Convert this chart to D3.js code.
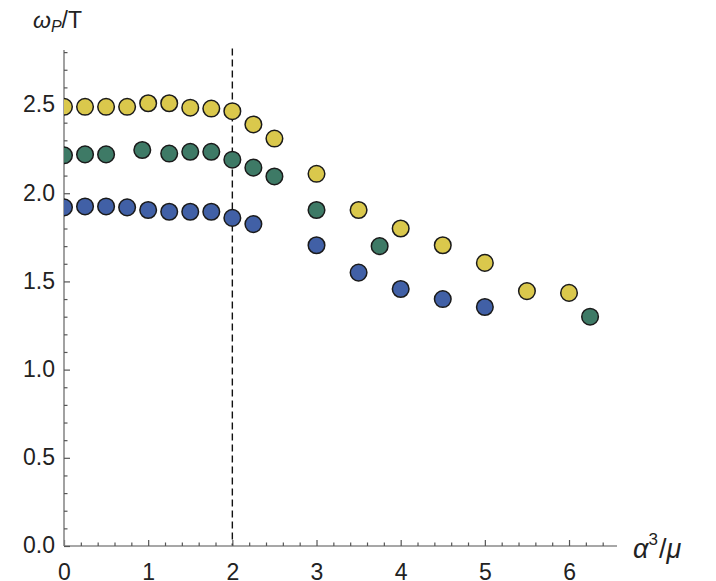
<!DOCTYPE html>
<html>
<head>
<meta charset="utf-8">
<script src="https://cdn.jsdelivr.net/npm/d3@7"></script>
<style>
  html, body { margin: 0; padding: 0; background: #fff; }
  svg { display: block; }
</style>
</head>
<body>
<svg id="chart" width="716" height="581"></svg>
<script>
// Peak frequency ω_P/T against α³/μ, three series
const xYellow = [0, 0.25, 0.5, 0.75, 1, 1.25, 1.5, 1.75, 2, 2.25, 2.5, 3, 3.5, 4, 4.5, 5, 5.5, 6];
const yYellow = [2.49, 2.49, 2.49, 2.49, 2.51, 2.51, 2.485, 2.48, 2.465, 2.39, 2.31, 2.11, 1.905, 1.80, 1.705, 1.605, 1.445, 1.435];

const xGreen = [0, 0.25, 0.5, 0.93, 1.25, 1.5, 1.75, 2, 2.25, 2.5, 3, 3.75, 6.25];
const yGreen = [2.215, 2.22, 2.22, 2.245, 2.225, 2.235, 2.235, 2.19, 2.145, 2.095, 1.905, 1.70, 1.30];

const xBlue = [0, 0.25, 0.5, 0.75, 1, 1.25, 1.5, 1.75, 2, 2.25, 3, 3.5, 4, 4.5, 5];
const yBlue = [1.92, 1.925, 1.925, 1.92, 1.905, 1.895, 1.895, 1.895, 1.86, 1.825, 1.705, 1.55, 1.457, 1.40, 1.355];

const xTicks = [0, 1, 2, 3, 4, 5, 6];
const yTicks = [0.0, 0.5, 1.0, 1.5, 2.0, 2.5];
const markerX = 2;

const series = [
  { xs: xBlue,   ys: yBlue,   fill: "#4160a6" },
  { xs: xGreen,  ys: yGreen,  fill: "#3e7a66" },
  { xs: xYellow, ys: yYellow, fill: "#dac84c" }
];

const svg = d3.select("#chart");
const x = d3.scaleLinear().domain([0, 6.57]).range([64, 617]);
const y = d3.scaleLinear().domain([0, 2.812]).range([546, 50]);

const axisColor = "#8a8a8a";
const font = "'Liberation Sans', Arial, Helvetica, sans-serif";

// clip region for the plotted points
svg.append("clipPath").attr("id", "plotClip")
  .append("rect")
  .attr("x", x(0)).attr("y", 0)
  .attr("width", 716 - x(0)).attr("height", y(0) + 1);

// vertical dashed reference line
svg.append("line")
  .attr("x1", x(markerX)).attr("x2", x(markerX))
  .attr("y1", y(2.82)).attr("y2", y(0))
  .attr("stroke", "#111").attr("stroke-width", 1.4)
  .attr("stroke-dasharray", "7,4");

// x axis (ticks pointing up into the plot)
const xMinor = d3.range(0.2, 6.5, 0.2).filter(v => Math.abs(v - Math.round(v)) > 1e-6);
const gx = svg.append("g").attr("transform", `translate(0,${y(0)})`);
gx.append("line").attr("x1", x(0)).attr("x2", x.range()[1])
  .attr("stroke", axisColor).attr("stroke-width", 1.6);
gx.call(d3.axisBottom(x).tickValues(xMinor).tickSize(-3.5).tickFormat(""))
  .call(g => g.select(".domain").remove())
  .call(g => g.selectAll(".tick line").attr("stroke", "#555").attr("stroke-width", 1.2));
const gxMaj = svg.append("g").attr("transform", `translate(0,${y(0)})`)
  .call(d3.axisBottom(x).tickValues(xTicks).tickSize(-6).tickPadding(0).tickFormat(d3.format("d")));
gxMaj.select(".domain").remove();
gxMaj.selectAll(".tick line").attr("stroke", "#555").attr("stroke-width", 1.2);
gxMaj.selectAll(".tick text")
  .attr("y", 33.5).attr("dy", 0)
  .attr("fill", "#222").style("font-family", font).style("font-size", "23px");

// y axis (ticks pointing right into the plot)
const yMinor = d3.range(0.1, 2.85, 0.1).filter(v => Math.abs(v * 2 - Math.round(v * 2)) > 1e-6);
const gy = svg.append("g").attr("transform", `translate(${x(0)},0)`);
gy.append("line").attr("y1", y(0)).attr("y2", y.range()[1])
  .attr("stroke", axisColor).attr("stroke-width", 1.6);
gy.call(d3.axisLeft(y).tickValues(yMinor).tickSize(-3.5).tickFormat(""))
  .call(g => g.select(".domain").remove())
  .call(g => g.selectAll(".tick line").attr("stroke", "#555").attr("stroke-width", 1.2));
const gyMaj = svg.append("g").attr("transform", `translate(${x(0)},0)`)
  .call(d3.axisLeft(y).tickValues(yTicks).tickSize(-6).tickPadding(0).tickFormat(d3.format(".1f")));
gyMaj.select(".domain").remove();
gyMaj.selectAll(".tick line").attr("stroke", "#555").attr("stroke-width", 1.2);
gyMaj.selectAll(".tick text")
  .attr("x", -9).attr("dy", "0.3em")
  .attr("fill", "#222").style("font-family", font).style("font-size", "23px");

// data points
const pts = svg.append("g").attr("clip-path", "url(#plotClip)");
series.forEach(s => {
  pts.append("g").selectAll("circle")
    .data(s.xs.map((xv, i) => [xv, s.ys[i]]))
    .join("circle")
    .attr("cx", d => x(d[0]))
    .attr("cy", d => y(d[1]))
    .attr("r", 8.3)
    .attr("fill", s.fill)
    .attr("stroke", "#1a1a1a")
    .attr("stroke-width", 1.5);
});

// y axis label: ω_P / T
const yl = svg.append("text")
  .attr("x", 33).attr("y", 28)
  .attr("fill", "#222").style("font-family", font).style("font-size", "23px");
yl.append("tspan").style("font-style", "italic").text("ω");
yl.append("tspan").style("font-style", "italic").style("font-size", "16px").attr("dy", 4).text("P");
yl.append("tspan").attr("dy", -4).text("/T");

// x axis label: α³ / μ
const xl = svg.append("text")
  .attr("x", 633).attr("y", 558)
  .attr("fill", "#222").style("font-family", font).style("font-size", "27px");
xl.append("tspan").style("font-style", "italic").text("α");
xl.append("tspan").style("font-size", "17px").attr("dy", -13).text("3");
xl.append("tspan").attr("dy", 13).attr("dx", 1).text("/");
xl.append("tspan").style("font-style", "italic").text("μ");
</script>
</body>
</html>
